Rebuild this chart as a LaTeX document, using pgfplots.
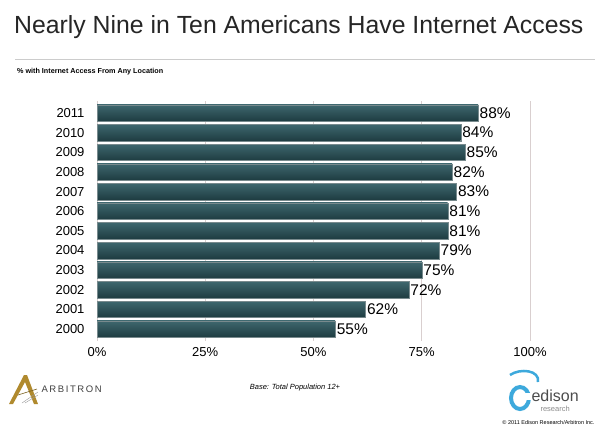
\documentclass[border=0pt]{standalone}
\usepackage{pgfplots}
\pgfplotsset{compat=1.18}
\usepackage{fontspec}
\setmainfont{Liberation Sans}
\definecolor{bartop}{HTML}{3E676E}
\definecolor{barbot}{HTML}{1E3C41}
\definecolor{gridc}{HTML}{D9CFCF}
\definecolor{gold}{HTML}{B08A2E}
\definecolor{edblue}{HTML}{3DA9DC}
\begin{document}
\begin{tikzpicture}[x=1pt,y=1pt]
\path[fill=white] (0,0) rectangle (600,-429);
\node[anchor=west,font=\fontsize{24.8}{28}\selectfont,text=black!85,inner sep=0pt] at (14,-27) {Nearly Nine in Ten Americans Have Internet Access};
\draw[black!20,line width=0.8pt] (15,-59) -- (595,-59);
\node[anchor=west,font=\bfseries\fontsize{7.2}{9}\selectfont,inner sep=0pt] at (17,-72) {\% with Internet Access From Any Location};
\begin{axis}[
  at={(97pt,-340.8pt)}, anchor=south west,
  scale only axis, width=433pt, height=239.6pt,
  xmin=0, xmax=100, ymin=-0.6, ymax=11.6,
  xtick={0,25,50,75,100},
  xticklabels={0\%,25\%,50\%,75\%,100\%},
  ytick={0,...,11},
  yticklabels={2000,2001,2002,2003,2004,2005,2006,2007,2008,2009,2010,2011},
  axis line style={draw=none},
  major tick length=0pt,
  xmajorgrids, grid style={gridc, line width=0.6pt},
  tick label style={font=\fontsize{13}{15}\selectfont},
  /pgf/number format/assume math mode=true,
  xticklabel style={yshift=-3pt},
  yticklabel style={xshift=-9pt},
  clip=false,
  mybar/.style={xbar, bar width=16.5pt, bar shift=0pt, forget plot, mark=none,
    draw=barbot!60!white, line width=0.3pt, top color=bartop, bottom color=barbot,
    nodes near coords={\pgfmathprintnumber{\pgfplotspointmeta}\%},
    point meta=x,
    every node near coord/.append style={font=\fontsize{15.5}{17}\selectfont, black, inner sep=1.5pt}},
]
\addplot[mybar] coordinates {(55,0)};
\addplot[mybar] coordinates {(62,1)};
\addplot[mybar] coordinates {(72,2)};
\addplot[mybar] coordinates {(75,3)};
\addplot[mybar] coordinates {(79,4)};
\addplot[mybar] coordinates {(81,5)};
\addplot[mybar] coordinates {(81,6)};
\addplot[mybar] coordinates {(83,7)};
\addplot[mybar] coordinates {(82,8)};
\addplot[mybar] coordinates {(85,9)};
\addplot[mybar] coordinates {(84,10)};
\addplot[mybar] coordinates {(88,11)};
\end{axis}
% Arbitron logo approximation
\fill[gold] (9,-404) -- (24,-375) -- (27,-375) -- (38,-404) -- (34,-404) -- (25,-382) -- (13,-404) -- cycle;
\draw[gold!70!black, line width=0.6pt] (18,-395) -- (37,-389);
\draw[black!40, line width=0.4pt] (22,-403) -- (38,-392);
\draw[black!40, line width=0.4pt] (25,-403) -- (38,-395);
\node[anchor=west,font=\fontsize{9.5}{11}\selectfont,text=black!75] at (38,-389) {A\,R\,B\,I\,T\,R\,O\,N};
\node[font=\itshape\fontsize{7.5}{9}\selectfont] at (295,-388) {Base: Total Population 12+};
% Edison logo approximation
\draw[edblue, line width=4pt] (520,-398) ellipse (9pt and 11pt);
\fill[white] (522,-393) rectangle (532,-400);
\draw[edblue, line width=2.5pt] (510,-375) .. controls (520,-368) and (540,-370) .. (538,-382);
\node[anchor=west,font=\fontsize{16}{18}\selectfont,text=black!70] at (528,-396) {edison};
\node[anchor=west,font=\fontsize{7.5}{9}\selectfont,text=black!45] at (537,-409) {research};
\node[anchor=east,font=\fontsize{5.5}{7}\selectfont] at (598,-423) {\textcopyright{} 2011 Edison Research/Arbitron Inc.};
\end{tikzpicture}
\end{document}
